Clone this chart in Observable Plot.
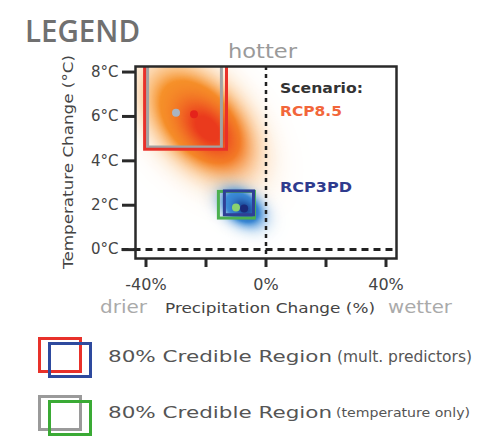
<!DOCTYPE html>
<html>
<head>
<meta charset="utf-8">
<script src="https://cdn.jsdelivr.net/npm/d3@7"></script>
<script src="https://cdn.jsdelivr.net/npm/@observablehq/plot@0.6"></script>
<style>
  html, body { margin: 0; padding: 0; background: #fff; }
  #wrap { position: relative; width: 481px; height: 447px; overflow: hidden; font-family: "DejaVu Sans", sans-serif; }
  #chart { position: absolute; left: 0; top: 0; }
  #overlay { position: absolute; left: 0; top: 0; }
</style>
</head>
<body>
<div id="wrap">
  <div id="chart"></div>
  <svg id="overlay" width="481" height="447" font-family="DejaVu Sans, sans-serif">
    <text x="25" y="42" font-size="31" font-family="Open Sans, sans-serif" font-weight="600" fill="#707070" textLength="115" lengthAdjust="spacingAndGlyphs">LEGEND</text>
    <text x="228" y="58" font-size="19" fill="#9a9a9a" textLength="69" lengthAdjust="spacingAndGlyphs">hotter</text>
    <text transform="translate(73,162) rotate(-90)" font-size="14" fill="#444" text-anchor="middle" textLength="214" lengthAdjust="spacingAndGlyphs">Temperature Change (°C)</text>
    <text x="280" y="93" font-size="14" font-weight="bold" fill="#333" textLength="83" lengthAdjust="spacingAndGlyphs">Scenario:</text>
    <text x="280" y="116" font-size="14" font-weight="bold" fill="#f2663a" textLength="62" lengthAdjust="spacingAndGlyphs">RCP8.5</text>
    <text x="280" y="192" font-size="14" font-weight="bold" fill="#2f3b8e" textLength="72" lengthAdjust="spacingAndGlyphs">RCP3PD</text>
    <text x="100" y="313" font-size="17" fill="#aaa" textLength="47" lengthAdjust="spacingAndGlyphs">drier</text>
    <text x="165" y="313" font-size="14" fill="#444" textLength="210" lengthAdjust="spacingAndGlyphs">Precipitation Change (%)</text>
    <text x="388" y="313" font-size="17" fill="#aaa" textLength="64" lengthAdjust="spacingAndGlyphs">wetter</text>
    <rect x="39.5" y="338.5" width="41" height="33" fill="none" stroke="#e8312a" stroke-width="3"/>
    <rect x="49.5" y="343.5" width="41" height="33" fill="none" stroke="#2e4a9e" stroke-width="3"/>
    <text x="108" y="362" font-size="16" fill="#555" textLength="224" lengthAdjust="spacingAndGlyphs">80% Credible Region</text>
    <text x="337" y="362" font-size="16" fill="#555" textLength="135" lengthAdjust="spacingAndGlyphs">(mult. predictors)</text>
    <rect x="39.5" y="396.5" width="41" height="33" fill="none" stroke="#9a9a9a" stroke-width="3"/>
    <rect x="49.5" y="401.5" width="41" height="33" fill="none" stroke="#3aaa35" stroke-width="3"/>
    <text x="108" y="418" font-size="16" fill="#555" textLength="224" lengthAdjust="spacingAndGlyphs">80% Credible Region</text>
    <text x="336" y="417" font-size="12" fill="#555" textLength="134" lengthAdjust="spacingAndGlyphs">(temperature only)</text>
  </svg>
</div>
<script>
// ---- data ----
const xTicks = [-40, -20, 0, 20, 40];
const xTickLabels = ["-40%", "", "0%", "", "40%"];
const yTicks = [0, 2, 4, 6, 8];
const yTickLabels = ["0°C", "2°C", "4°C", "6°C", "8°C"];

// 80% credible regions (precip %, temp °C)
const regionName = ["RCP8.5 temp only", "RCP8.5 mult.", "RCP3PD temp only", "RCP3PD mult."];
const regionX1 = [-39.3, -40.3, -15.7, -13.7];
const regionX2 = [-14.7, -13, -3.7, -4];
const regionY1 = [4.6, 4.5, 1.4, 1.55];
const regionY2 = [9, 9, 2.6, 2.62];
const regionColor = ["#a3a3a3", "#e8312a", "#4cb050", "#2e3f96"];

// median estimates
const medianX = [-30, -24, -10, -7.3];
const medianY = [6.17, 6.1, 1.9, 1.85];
const medianColor = ["#a9b4c2", "#e5231b", "#8ad36f", "#1b2a7a"];

// density blobs (center, spread, correlation)
const blobX = [-22, -19.5, -8, -7.3];
const blobY = [5.75, 5.45, 1.9, 1.85];
const blobSdX = [10, 6.5, 4.3, 2.5];
const blobSdY = [1.4, 0.9, 0.52, 0.3];
const blobCorr = [-0.45, -0.45, -0.35, -0.3];
const blobColor = ["#f7962a", "#ea3a1d", "#3d8fdb", "#1f4fa0"];
const blobGain = [2.4, 1.2, 2.2, 1.2];

const xDomain = [-43.5, 43.5];
const yDomain = [-0.4, 8.25];

function blobDensity(i) {
  return (x, y) => {
    const dx = (x - blobX[i]) / blobSdX[i];
    const dy = (y - blobY[i]) / blobSdY[i];
    const r = blobCorr[i];
    const q = (dx * dx - 2 * r * dx * dy + dy * dy) / (1 - r * r);
    return Math.min(1, blobGain[i] * Math.exp(-0.5 * q));
  };
}

const regions = regionName.map((n, i) => ({n, x1: regionX1[i], x2: regionX2[i], y1: regionY1[i], y2: regionY2[i], c: regionColor[i]}));
const medians = medianX.map((x, i) => ({x, y: medianY[i], c: medianColor[i]}));

const plot = Plot.plot({
  width: 481,
  height: 330,
  marginLeft: 135,
  marginRight: 85,
  marginTop: 66,
  marginBottom: 72,
  style: {fontFamily: "DejaVu Sans, sans-serif", background: "transparent"},
  x: {domain: xDomain},
  y: {domain: yDomain},
  marks: [
    ...blobX.map((_, i) => Plot.raster({
      x1: xDomain[0], x2: xDomain[1], y1: yDomain[0], y2: yDomain[1],
      fill: blobColor[i], fillOpacity: blobDensity(i), pixelSize: 1
    })),
    Plot.rect(regions, {x1: "x1", x2: "x2", y1: "y1", y2: "y2", stroke: "c", fill: "none", strokeWidth: 3, clip: "frame"}),
    Plot.ruleX([0], {stroke: "#222", strokeWidth: 2.5, strokeDasharray: "4,4"}),
    Plot.ruleY([0], {x1: -48, x2: xDomain[1], stroke: "#222", strokeWidth: 3, strokeDasharray: "7,5", clip: false}),
    Plot.dot(medians, {x: "x", y: "y", fill: "c", r: 4}),
    Plot.frame({stroke: "#2a2a2a", strokeWidth: 2.5}),
    Plot.axisY({ticks: yTicks, tickFormat: (d) => yTickLabels[yTicks.indexOf(d)], tickSize: 13, tickPadding: 4,
      fontSize: 15, fill: "#444", stroke: "#2a2a2a", strokeWidth: 3, label: null}),
    Plot.axisX({ticks: xTicks, tickFormat: (d) => xTickLabels[xTicks.indexOf(d)], tickSize: 9, tickPadding: 11,
      fontSize: 16, fill: "#444", stroke: "#2a2a2a", strokeWidth: 3, label: null})
  ]
});
document.getElementById("chart").appendChild(plot);
</script>
</body>
</html>
